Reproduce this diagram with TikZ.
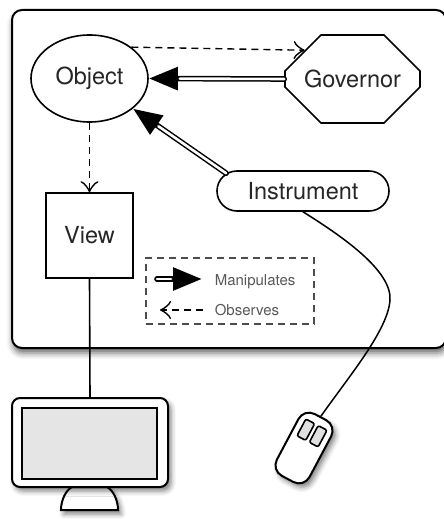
\documentclass[tikz,border=0pt]{standalone}
\usepackage{fontspec}
\setmainfont{TeX Gyre Heros}
\usetikzlibrary{arrows.meta,calc,shapes.geometric,shapes.misc,shadows.blur}

\begin{document}
\begin{tikzpicture}[x=1pt,y=-1pt,line width=1.6pt,
	element/.style={draw,fill=white,inner sep=0pt,font=\fontsize{23.5}{27}\selectfont,text=black!85},
	manip/.style={line width=5.6pt,line cap=round,-{Triangle[length=29pt 0 0,width=22pt 0 0,fill=black]},
		postaction={draw=white,line width=2.6pt,-,shorten >=31pt}},
	observe/.style={dash pattern=on 7pt off 5pt,line width=1.4pt,-{Classical TikZ Rightarrow[length=11pt,width=18pt,line width=1.4pt]}},
	legtext/.style={inner sep=0pt,anchor=base west,font=\fontsize{15}{18}\selectfont,text=black!65},
	device/.style={draw,fill=white,line width=2pt,blur shadow={shadow xshift=3pt,shadow yshift=-4pt,shadow blur radius=5pt,shadow opacity=50}}]
	
	\useasboundingbox (0,0) rectangle (444,519);
	\draw[line width=2pt,rounded corners=10pt,fill=white,blur shadow={shadow xshift=1pt,shadow yshift=-5pt,shadow blur radius=6pt,shadow opacity=60}] (12,10) rectangle (446,348);
	
	\node[element,ellipse,minimum width=117pt,minimum height=87pt] (obj) at (89.5,78.5) {Object};
	\node[element,chamfered rectangle,chamfered rectangle xsep=40pt,chamfered rectangle ysep=27pt,minimum width=135pt,minimum height=88pt] (gov) at (352.5,79) {Governor};
	\node[element,rounded rectangle,minimum width=172pt,minimum height=40pt] (inst) at (303,191) {Instrument};
	\node[element,minimum width=87pt,minimum height=85pt] (view) at (89.5,235.5) {View};
	
	\draw[observe] (obj.north east) -- (gov.149);
	\draw[manip] (gov.west) -- (obj.east);
	\draw[manip] (inst.167) -- (obj);
	\draw[observe] (obj.south) -- (view.north);
	
	% legend
	\node[draw=black!70,dash pattern=on 7pt off 5pt,minimum width=168pt,minimum height=66pt] (legend) at (230,291) {};
	\node[legtext] (manip) at (214,285) {Manipulates};
	\node[legtext] (obs) at (214,315) {Observes};
	\coordinate (m0) at (157,279);
	\coordinate (o0) at (160,310);
	\draw[manip] (m0) -- ($(m0 -| manip.west)+(-12,0)$);
	\draw[observe] ($(o0 -| obs.west)+(-11,0)$) -- (o0);
	
	% monitor
	\draw[device] (72,487) .. controls (66,490) and (61,500) .. (61,510) -- (118,510) .. controls (118,500) and (113,490) .. (107,487) -- cycle;
	\node[device,rounded corners=8pt,minimum width=156pt,minimum height=89pt] (monitor) at (90,442.5) {};
	\node[draw,fill=black!10,line width=2pt,minimum width=135pt,minimum height=71pt] (screen) at (89.5,443.5) {};
	\draw (view.south) -- (monitor.north);
	
	% mouse
	\node[device,rounded corners=12pt,minimum width=37pt,minimum height=70pt,rotate=-28] (mouse) at (304,448) {};
	\begin{scope}[shift={(mouse.center)},rotate=-28,transform shape]
		\foreach \s/\n in {-7/left,7/right}
		\node[draw,fill=black!12,rounded corners=2pt,minimum width=10pt,minimum height=19pt] (btn\n) at (\s,-17) {};
	\end{scope}
	\draw[line width=1.5pt] (inst.south) .. controls (340,235) and (392,270) .. (390,300) .. controls (388,330) and (350,375) .. (mouse.north);
\end{tikzpicture}
\end{document}
